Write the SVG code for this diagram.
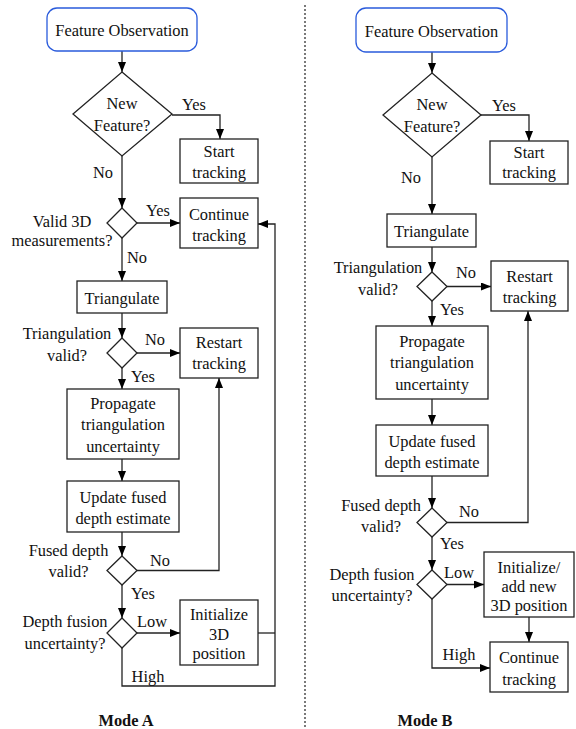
<svg xmlns="http://www.w3.org/2000/svg" width="576" height="729" viewBox="0 0 576 729" font-family="Liberation Serif, Times New Roman, DejaVu Serif, serif">
<defs>
<marker id="ah" markerUnits="userSpaceOnUse" markerWidth="10" markerHeight="8" refX="10" refY="4" orient="auto">
<path d="M0,0 L10,4 L0,8 z" fill="#000"/>
</marker>
<style>
text{font-size:16.4px;fill:#111;text-anchor:middle}
.b{font-weight:bold}
.box{fill:#fff;stroke:#222;stroke-width:1.3}
.start{fill:#fff;stroke:#2a5bdc;stroke-width:1.3}
.c{fill:none;stroke:#222;stroke-width:1.3}
.a{marker-end:url(#ah)}
</style>
</defs>
<rect width="576" height="729" fill="#fff"/>
<line x1="305" y1="5" x2="305" y2="729" stroke="#222" stroke-width="1.2" stroke-dasharray="2,2"/>

<g id="connectors">
<path class="c a" d="M122,51 V72"/>
<path class="c a" d="M172,115 H220 V139"/>
<path class="c a" d="M122,156 V208"/>
<path class="c a" d="M137,223 H180"/>
<path class="c a" d="M122,238 V281"/>
<path class="c a" d="M122,313 V338"/>
<path class="c a" d="M137,353 H180"/>
<path class="c a" d="M122,368 V389"/>
<path class="c a" d="M122,459 V481"/>
<path class="c a" d="M122,532 V556"/>
<path class="c a" d="M137,570.5 H219 V378"/>
<path class="c a" d="M122,585 V618"/>
<path class="c a" d="M137,633 H180"/>
<path class="c" d="M258,633 H275"/>
<path class="c a" d="M122,648 V686 H275 V224 H258"/>

<path class="c a" d="M432,52 V73"/>
<path class="c a" d="M481,115 H529 V141"/>
<path class="c a" d="M432,157 V214"/>
<path class="c a" d="M432,247 V272"/>
<path class="c a" d="M447,286.5 H491"/>
<path class="c a" d="M432,301 V326"/>
<path class="c a" d="M432,399 V425"/>
<path class="c a" d="M432,476 V508"/>
<path class="c a" d="M447,522.5 H528 V311"/>
<path class="c a" d="M432,537 V570"/>
<path class="c a" d="M447,584.5 H484"/>
<path class="c a" d="M529,617 V642"/>
<path class="c a" d="M432,599 V668 H490"/>
</g>

<g id="labels">
<text x="194" y="110">Yes</text>
<text x="103" y="178">No</text>
<text x="158" y="216">Yes</text>
<text x="137" y="263">No</text>
<text x="155" y="345">No</text>
<text x="143" y="381.5">Yes</text>
<text x="160" y="566">No</text>
<text x="143" y="599">Yes</text>
<text x="152" y="627">Low</text>
<text x="148" y="681.5">High</text>
<text x="504" y="110.5">Yes</text>
<text x="411" y="183">No</text>
<text x="466" y="278">No</text>
<text x="452" y="315">Yes</text>
<text x="469" y="516.5">No</text>
<text x="452" y="549">Yes</text>
<text x="459" y="578">Low</text>
<text x="459" y="660">High</text>
<text x="62" y="226.5">Valid 3D</text>
<text x="62" y="246">measurements?</text>
<text x="67" y="339">Triangulation</text>
<text x="67" y="361">valid?</text>
<text x="68.5" y="555.5">Fused depth</text>
<text x="68.5" y="577">valid?</text>
<text x="65" y="627">Depth fusion</text>
<text x="65" y="648.5">uncertainty?</text>
<text x="378" y="272.5">Triangulation</text>
<text x="378" y="295">valid?</text>
<text x="381" y="510.5">Fused depth</text>
<text x="381" y="531.5">valid?</text>
<text x="372" y="580">Depth fusion</text>
<text x="372" y="600.5">uncertainty?</text>
<text class="b" x="126" y="726">Mode A</text>
<text class="b" x="425" y="726">Mode B</text>
</g>

<g id="a-feature-observation"><rect class="start" x="47" y="8" width="150" height="43" rx="10"/><text x="122" y="36">Feature Observation</text></g>
<g id="a-new-feature"><path class="box" d="M122,72 L172,114 L122,156 L73,114 z"/><text x="122" y="109">New</text><text x="122" y="131">Feature?</text></g>
<g id="a-start-tracking"><rect class="box" x="180" y="139" width="78" height="44"/><text x="219" y="157">Start</text><text x="219" y="177.5">tracking</text></g>
<g id="a-valid-3d"><path class="box" d="M122,208 L137,223 L122,238 L107,223 z"/></g>
<g id="a-continue-tracking"><rect class="box" x="180" y="198" width="78" height="50"/><text x="219" y="220">Continue</text><text x="219" y="240.5">tracking</text></g>
<g id="a-triangulate"><rect class="box" x="77" y="281" width="90" height="32"/><text x="122" y="304">Triangulate</text></g>
<g id="a-triangulation-valid"><path class="box" d="M122,338 L137,353 L122,368 L107,353 z"/></g>
<g id="a-restart-tracking"><rect class="box" x="180" y="328" width="78" height="50"/><text x="219" y="348">Restart</text><text x="219" y="369">tracking</text></g>
<g id="a-propagate"><rect class="box" x="67" y="389" width="112" height="70"/><text x="123" y="409">Propagate</text><text x="123" y="430">triangulation</text><text x="123" y="451.5">uncertainty</text></g>
<g id="a-update-fused"><rect class="box" x="67" y="481" width="112" height="51"/><text x="123" y="502.5">Update fused</text><text x="123" y="524">depth estimate</text></g>
<g id="a-fused-valid"><path class="box" d="M122,556 L137,570.5 L122,585 L107,570.5 z"/></g>
<g id="a-depth-fusion"><path class="box" d="M122,618 L137,633 L122,648 L107,633 z"/></g>
<g id="a-initialize"><rect class="box" x="180" y="600" width="78" height="65"/><text x="219" y="620">Initialize</text><text x="219" y="640">3D</text><text x="219" y="659">position</text></g>

<g id="b-feature-observation"><rect class="start" x="356" y="8" width="151" height="44" rx="10"/><text x="431.5" y="36.5">Feature Observation</text></g>
<g id="b-new-feature"><path class="box" d="M432,73 L481,115 L432,157 L383,115 z"/><text x="432" y="110">New</text><text x="432" y="131.5">Feature?</text></g>
<g id="b-start-tracking"><rect class="box" x="490" y="141" width="78" height="43"/><text x="529" y="158">Start</text><text x="529" y="178">tracking</text></g>
<g id="b-triangulate"><rect class="box" x="387" y="214" width="89" height="33"/><text x="431.5" y="236.5">Triangulate</text></g>
<g id="b-triangulation-valid"><path class="box" d="M432,272 L447,286.5 L432,301 L417,286.5 z"/></g>
<g id="b-restart-tracking"><rect class="box" x="491" y="261" width="77" height="50"/><text x="529.5" y="281.5">Restart</text><text x="529.5" y="303">tracking</text></g>
<g id="b-propagate"><rect class="box" x="376" y="326" width="112" height="73"/><text x="432" y="346.5">Propagate</text><text x="432" y="368">triangulation</text><text x="432" y="390">uncertainty</text></g>
<g id="b-update-fused"><rect class="box" x="376" y="425" width="112" height="51"/><text x="432" y="446.5">Update fused</text><text x="432" y="467.5">depth estimate</text></g>
<g id="b-fused-valid"><path class="box" d="M432,508 L447,522.5 L432,537 L417,522.5 z"/></g>
<g id="b-depth-fusion"><path class="box" d="M432,570 L447,584.5 L432,599 L417,584.5 z"/></g>
<g id="b-initialize"><rect class="box" x="484" y="552" width="90" height="65"/><text x="529" y="572.5">Initialize/</text><text x="529" y="591.5">add new</text><text x="529" y="610.5">3D position</text></g>
<g id="b-continue-tracking"><rect class="box" x="490" y="642" width="78" height="50"/><text x="529" y="663">Continue</text><text x="529" y="685">tracking</text></g>
</svg>
